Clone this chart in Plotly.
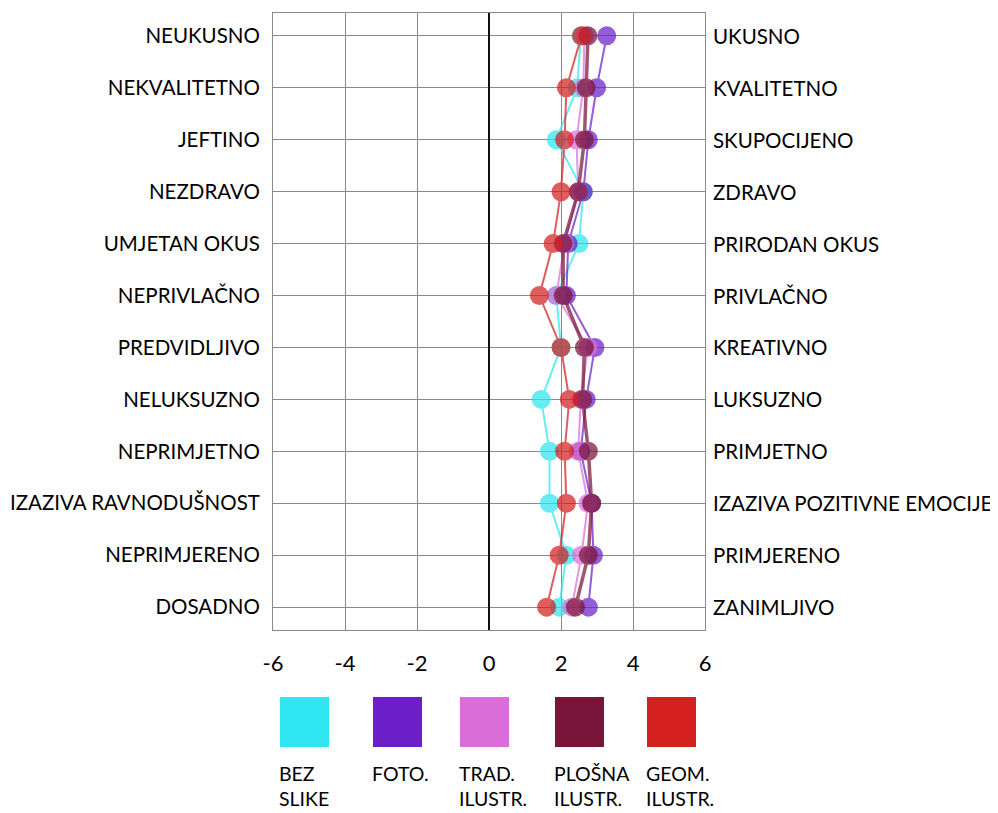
import plotly.graph_objects as go

left_labels = ["NEUKUSNO", "NEKVALITETNO", "JEFTINO", "NEZDRAVO", "UMJETAN OKUS", "NEPRIVLAČNO",
               "PREDVIDLJIVO", "NELUKSUZNO", "NEPRIMJETNO", "IZAZIVA RAVNODUŠNOST", "NEPRIMJERENO", "DOSADNO"]
right_labels = ["UKUSNO", "KVALITETNO", "SKUPOCIJENO", "ZDRAVO", "PRIRODAN OKUS", "PRIVLAČNO",
                "KREATIVNO", "LUKSUZNO", "PRIMJETNO", "IZAZIVA POZITIVNE EMOCIJE", "PRIMJERENO", "ZANIMLJIVO"]

series_names = ["BEZ<br>SLIKE", "FOTO.", "TRAD.<br>ILUSTR.", "PLOŠNA<br>ILUSTR.", "GEOM.<br>ILUSTR."]
series_colors = ["#2EE6F0", "#6A1FC8", "#DA6ED8", "#7A1438", "#D41F1F"]

bez_slike = [2.55, 2.45, 1.87, 2.62, 2.50, 1.87, 2.00, 1.45, 1.68, 1.68, 2.15, 1.95]
foto      = [3.27, 2.99, 2.76, 2.62, 2.20, 2.15, 2.94, 2.70, 2.55, 2.85, 2.90, 2.76]
trad      = [2.65, 2.62, 2.43, 2.48, 2.10, 1.87, 2.75, 2.55, 2.48, 2.75, 2.57, 2.30]
plosna    = [2.75, 2.70, 2.65, 2.48, 2.06, 2.06, 2.65, 2.60, 2.76, 2.85, 2.76, 2.40]
geom      = [2.57, 2.15, 2.10, 2.00, 1.78, 1.40, 2.00, 2.23, 2.10, 2.15, 1.95, 1.60]

x_ticks = [-6, -4, -2, 0, 2, 4, 6]

all_series = [bez_slike, foto, trad, plosna, geom]
line_widths = [2, 2, 2, 3.5, 2]

rows = list(range(len(left_labels)))

# plot area in page pixels (page has an 8px body margin)
PL, PR, PT, PB = 273, 705, 13, 630
OFF = 8
W, H = 998, 813
ml, mt = PL - OFF, PT - OFF
mr = W - ml - (PR - PL)
mb = H - mt - (PB - PT)


def px_x(px):
    return (px - PL) / (PR - PL)


def px_y(py):
    return (PB - py) / (PB - PT)


fig = go.Figure()
for vals, col, lw in zip(all_series, series_colors, line_widths):
    fig.add_trace(go.Scatter(
        x=vals, y=rows, mode="lines+markers",
        line=dict(color=col, width=lw),
        marker=dict(color=col, size=19, line=dict(width=0)),
        opacity=0.72, showlegend=False, hoverinfo="skip"))

FONT = "Lato"
LBL = 20.5
TXT = "#000000"
fig.update_layout(
    width=W, height=H,
    margin=dict(l=ml, r=mr, t=mt, b=mb, autoexpand=False),
    plot_bgcolor="white", paper_bgcolor="white",
    font=dict(family=FONT, size=LBL, color=TXT),
    xaxis=dict(range=[-6, 6], tickvals=x_ticks, ticktext=[str(v) for v in x_ticks],
               showgrid=True, gridcolor="#8a8a8a", gridwidth=1,
               zeroline=True, zerolinecolor="#111111", zerolinewidth=2,
               showline=True, linecolor="#8a8a8a", linewidth=1, mirror=True,
               ticks="", ticklabelstandoff=14,
               tickfont=dict(family=FONT, size=22, color=TXT)),
    yaxis=dict(range=[11.44, -0.44], tickvals=rows, ticktext=left_labels,
               showgrid=True, gridcolor="#8a8a8a", gridwidth=1, zeroline=False,
               showline=True, linecolor="#8a8a8a", linewidth=1, mirror=True,
               ticks="", ticklabelstandoff=8, tickfont=dict(family=FONT, size=LBL, color=TXT)),
)

for i, lab in enumerate(right_labels):
    fig.add_annotation(x=1, xref="paper", y=i, yref="y", text=lab, showarrow=False,
                       xanchor="left", xshift=6, font=dict(family=FONT, size=LBL, color=TXT))

# legend: big squares with labels below
leg_left = [280, 373, 460, 555, 647]
for lx, name, col in zip(leg_left, series_names, series_colors):
    fig.add_shape(type="rect", xref="paper", yref="paper",
                  x0=px_x(lx), x1=px_x(lx + 49), y0=px_y(747), y1=px_y(697),
                  fillcolor=col, line=dict(width=0))
    fig.add_annotation(x=px_x(lx - 3), xref="paper", y=px_y(760), yref="paper",
                       text=name, showarrow=False, xanchor="left", yanchor="top", align="left",
                       font=dict(family=FONT, size=19.5, color=TXT))

fig.write_html("out.html")
